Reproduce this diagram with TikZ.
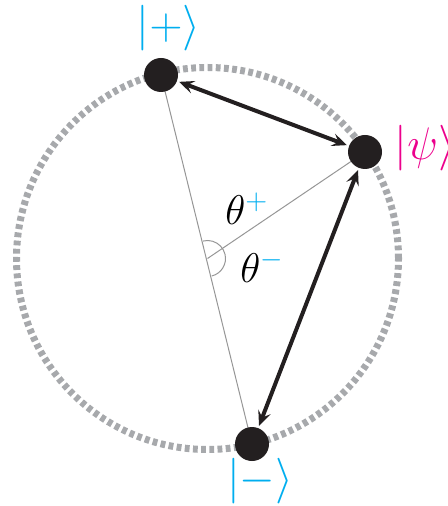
\documentclass[tikz,border=0pt]{standalone}
\usepackage{amsmath}
\usetikzlibrary{arrows.meta,positioning,angles,backgrounds}
\definecolor{ringgray}{RGB}{167,169,172}
\definecolor{guidegray}{RGB}{150,150,150}
\definecolor{kcyan}{RGB}{0,174,239}
\definecolor{kmag}{RGB}{236,0,140}
\definecolor{dotblack}{RGB}{35,31,32}
\newcommand{\bigket}[1]{\scalebox{1.1}{$|#1\rangle$}}

\begin{document}
\begin{tikzpicture}[x=0.5pt,y=-0.5pt,
    font=\fontsize{20.74pt}{25pt}\selectfont,
    dot/.style={circle,fill=dotblack,inner sep=0pt,minimum size=17pt},
    ket/.style={inner sep=0pt,text=kcyan},
    ring/.style={draw=ringgray,line width=3.5pt,dash pattern=on 2.4pt off 1.7pt},
    guide/.style={draw=guidegray,line width=0.5pt},
    link/.style={draw=dotblack,line width=2pt,<->,
        >={Stealth[length=7.5pt,width=6.5pt,inset=3pt]},
        shorten <=1pt,shorten >=1pt}]
    \useasboundingbox (0,0) rectangle (447,506);
    \coordinate (O) at (207.5,258.5);
    % states on the ring
    \node[dot] (plus) at (161,75) {};
    \node[dot] (psi) at (365,152) {};
    \node[dot] (minus) at (252,444) {};
    \begin{scope}[on background layer]
        \draw[ring] (O) circle[radius=95.5pt];
        \draw[guide] (plus.center) -- (minus.center);
        \draw[guide] (O) -- (psi.center);
        \pic[guide,angle radius=9pt] {angle=minus--O--plus};
    \end{scope}
    % distances to the basis states
    \draw[link] (psi) -- (plus);
    \draw[link] (psi) -- (minus);
    % labels
    \node[ket,above=3pt of plus,xshift=3.75pt] (lplus) {\bigket{{+}}};
    \node[ket,text=kmag,right=6pt of psi,yshift=2pt] (lpsi) {\bigket{\psi}};
    \node[ket,below=-2pt of minus,xshift=4pt] (lminus) {\bigket{{-}}};
    \node[anchor=base west,inner sep=0pt] (tplus) at (225,225) {$\theta^{\textcolor{kcyan}{+}}$};
    \node[anchor=base west,inner sep=0pt] (tminus) at (240,283) {$\theta^{\textcolor{kcyan}{-}}$};
\end{tikzpicture}
\end{document}
